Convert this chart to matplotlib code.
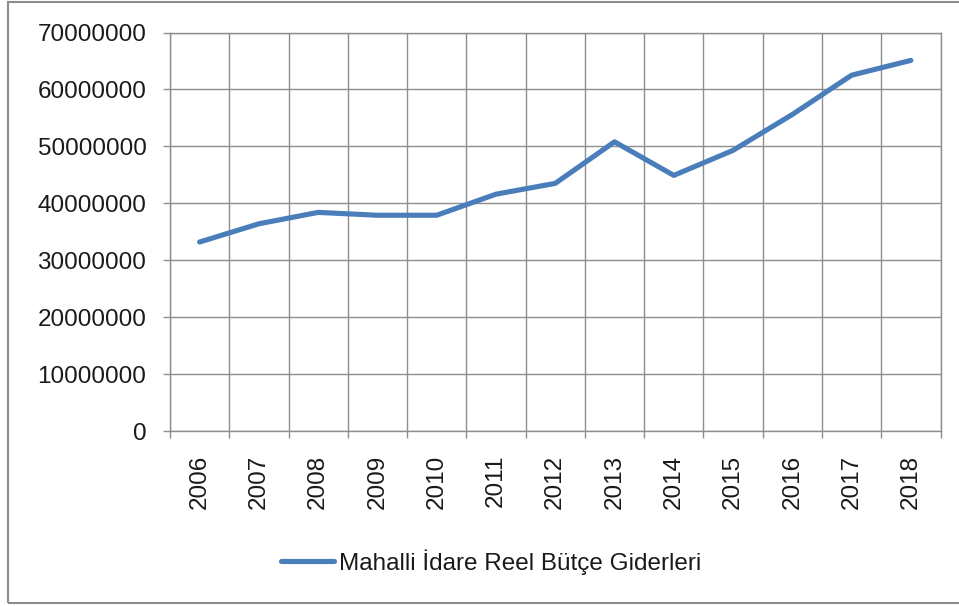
import matplotlib
matplotlib.use("Agg")
from matplotlib import pyplot as plt
from matplotlib.patches import Rectangle
from matplotlib.ticker import FixedLocator

# 数据
years = ["2006", "2007", "2008", "2009", "2010", "2011", "2012",
         "2013", "2014", "2015", "2016", "2017", "2018"]
giderler = [33200000, 36400000, 38400000, 37900000, 37900000, 41600000, 43500000,
            50800000, 44900000, 49300000, 55600000, 62500000, 65100000]
seri_adi = "Mahalli İdare Reel Bütçe Giderleri"
y_ticks = [0, 10000000, 20000000, 30000000, 40000000, 50000000, 60000000, 70000000]

plt.rcParams['font.family'] = ['Liberation Sans', 'DejaVu Sans']

W, H = 959, 606
fig = plt.figure(figsize=(W / 100, H / 100), dpi=100)

# 外框
fig.patches.append(Rectangle((8 / W, 3 / H), (W + 10 - 8) / W, (H - 5) / H,
                             transform=fig.transFigure, fill=False,
                             edgecolor="#8c8c8c", linewidth=1.5))

ax = fig.add_axes([170 / W, 1 - 431 / H, (940.5 - 170) / W, (431 - 32.5) / H])
grid_c = "#8e8e8e"

x = list(range(len(years)))
line, = ax.plot(x, giderler, color="#4a7ebb", linewidth=3.7,
                solid_joinstyle="round", solid_capstyle="round", label=seri_adi)

ax.set_xlim(-0.5, len(years) - 0.5)
ax.set_ylim(0, 70000000)
ax.set_yticks(y_ticks)
ax.set_yticklabels([str(v) for v in y_ticks])
ax.set_xticks(x)
ax.set_xticklabels(years, rotation=90)
ax.xaxis.set_minor_locator(FixedLocator([i - 0.5 for i in range(len(years) + 1)]))

ax.grid(True, axis="y", which="major", color=grid_c, linewidth=1.0)
ax.grid(True, axis="x", which="minor", color=grid_c, linewidth=1.0)
ax.set_axisbelow(True)

for s in ax.spines.values():
    s.set_color(grid_c)
    s.set_linewidth(1.0)

ax.tick_params(axis="y", which="major", length=5, width=1.0, color=grid_c,
               pad=12, labelsize=17.5, labelcolor="#1a1a1a")
ax.tick_params(axis="x", which="major", length=0, pad=17, labelsize=17.5,
               labelcolor="#1a1a1a")
ax.tick_params(axis="x", which="minor", length=5, width=1.0, color=grid_c)

fig.legend(handles=[line], loc="center", bbox_to_anchor=(491 / W, 1 - 562 / H),
           frameon=False, fontsize=17.5, handlelength=2.2, handletextpad=0.2,
           labelcolor="#1a1a1a")

plt.savefig("out.png", dpi=100)
